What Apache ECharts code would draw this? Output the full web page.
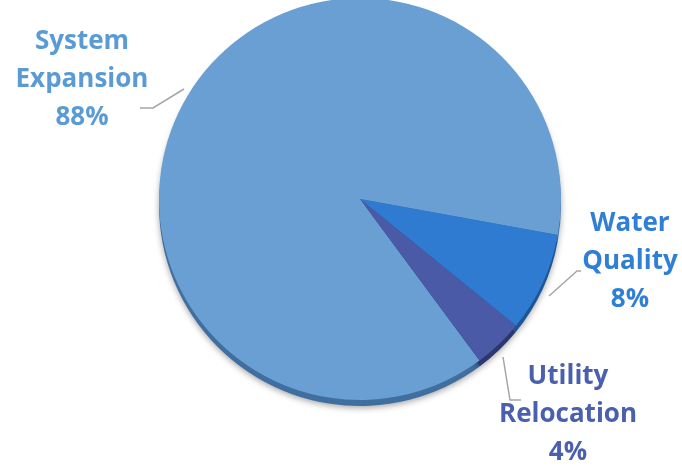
<!DOCTYPE html>
<html><head><meta charset="utf-8">
<script src="https://cdn.jsdelivr.net/npm/echarts@6/dist/echarts.min.js"></script>
<style>html,body{margin:0;padding:0;background:#fff}#c{width:682px;height:467px}</style>
</head><body><div id="c"></div>
<script>
var categories = ['System\nExpansion', 'Water\nQuality', 'Utility\nRelocation'];
var values = [88, 8, 4];
var colors = ['#6a9fd3', '#2e7bd1', '#4a5aa6'];
var edgeColors = ['#3f6e9f', '#1d5596', '#2a3770'];
var labelColors = ['#5b9bd5', '#2f7fd6', '#4a5fae'];

var labelPos = [
  {x: 82, y: 80, line: [[184, 89], [153, 108], [140, 108]]},
  {x: 630, y: 262, line: [[549, 296], [577, 271], [581, 271]]},
  {x: 568, y: 415, line: [[503, 357], [510, 400], [521, 400]]}
];

var chart = echarts.init(document.getElementById('c'));
var front = categories.map(function (c, i) {
  return {name: c, value: values[i], itemStyle: {color: colors[i]},
    label: {color: labelColors[i]}};
});
var back = categories.map(function (c, i) {
  return {name: c, value: values[i], itemStyle: {color: edgeColors[i]}};
});
chart.setOption({
  animation: false,
  series: [{
    type: 'pie', silent: true, center: [360, 205], radius: 201,
    startAngle: -53.5, clockwise: true, label: {show: false}, labelLine: {show: false},
    itemStyle: {shadowBlur: 6, shadowColor: 'rgba(0,0,0,0.35)', shadowOffsetY: 2},
    data: back
  }, {
    type: 'pie', center: [360, 199], radius: 201,
    startAngle: -53.5, clockwise: true,
    label: {
      show: true,
      formatter: function (p) { return p.name + '\n' + p.value + '%'; },
      fontFamily: 'Open Sans', fontWeight: 'bold', fontSize: 26, lineHeight: 38,
      align: 'center', overflow: 'none', width: 200
    },
    labelLine: {show: true, lineStyle: {color: '#a6a6a6', width: 1.5}},
    labelLayout: function (p) {
      var l = labelPos[p.dataIndex];
      return {x: l.x, y: l.y, align: 'center', verticalAlign: 'middle', labelLinePoints: l.line};
    },
    data: front
  }]
});
</script></body></html>
